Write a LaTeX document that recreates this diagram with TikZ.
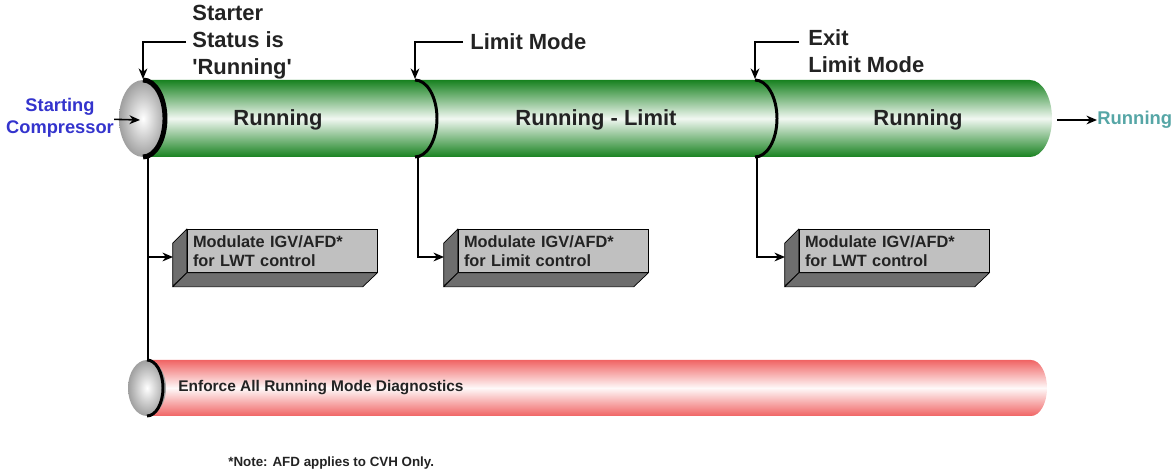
\documentclass[tikz,border=0pt]{standalone}
\usepackage{fontspec}
\setmainfont{Liberation Sans}
\usetikzlibrary{arrows.meta,positioning,calc}
\definecolor{TubeGreen}{RGB}{24,130,32}
\definecolor{TubeRed}{RGB}{240,100,100}
\definecolor{LabelBlue}{RGB}{52,52,205}
\definecolor{LabelTeal}{RGB}{86,166,166}
\definecolor{BoxFront}{RGB}{192,192,192}
\definecolor{BoxSide}{RGB}{110,110,110}
\definecolor{TextDark}{RGB}{35,35,35}

\begin{document}
\begin{tikzpicture}[x=0.02cm, y=0.02cm,
    toplab/.style={align=left, inner sep=0pt, text=TextDark,
                   font=\fontsize{12.5}{15.4}\selectfont\bfseries},
    tubelab/.style={inner sep=0pt, text=TextDark,
                    font=\fontsize{12.5}{15}\selectfont\bfseries},
    modbox/.style={rectangle, draw=black, fill=BoxFront, minimum width=3.8cm,
                   minimum height=0.86cm, text width=3.56cm, inner xsep=0.12cm,
                   align=left, text=TextDark, font=\fontsize{9.3}{11}\selectfont\bfseries},
    boxside/.style={draw=black, fill=BoxSide},
    divider/.style={line width=1.7pt, black},
    arr/.style={-{Stealth[length=6pt, width=5pt]}, line width=0.9pt, black},
    line/.style={line width=0.9pt, black}
  ]
    \useasboundingbox (0,0) rectangle (1173,-475);

    % green tube
    \shade[top color=TubeGreen, bottom color=TubeGreen, middle color=TubeGreen!6]
      (143,-80) -- (1030,-80) arc[start angle=90, end angle=-90, x radius=22, y radius=38.5]
      -- (143,-157) -- cycle;
    \shade[inner color=white, outer color=gray!75] (143,-118.5) ellipse[x radius=24, y radius=38.5];
    \draw[line width=2.8pt] (143,-80) arc[start angle=90, end angle=-90, x radius=22, y radius=38.5];
    \draw[divider] (415,-80) arc[start angle=90, end angle=-90, x radius=22, y radius=38.5];
    \draw[divider] (755,-80) arc[start angle=90, end angle=-90, x radius=22, y radius=38.5];

    % red tube
    \shade[top color=TubeRed, bottom color=TubeRed, middle color=TubeRed!4]
      (147,-360) -- (1031,-360) arc[start angle=90, end angle=-90, x radius=16, y radius=28]
      -- (147,-416) -- cycle;
    \shade[inner color=white, outer color=gray!75] (147,-388) ellipse[x radius=19, y radius=28];
    \draw[line width=1.7pt] (147,-360) arc[start angle=90, end angle=-90, x radius=16, y radius=28];

    \node[tubelab] (run1) at (278,-120) {Running};
    \node[tubelab] (runlim) at (596,-120) {Running - Limit};
    \node[tubelab] (run2) at (918,-120) {Running};
    \node[inner sep=0pt, anchor=west, text=TextDark, font=\fontsize{8.8}{10}\selectfont\bfseries]
      (diag) at (178,-388) {Enforce All Running Mode Diagnostics};

    \node[align=center, inner sep=0pt, text=LabelBlue, font=\fontsize{10.4}{12.3}\selectfont\bfseries]
      (start) at (60,-118) {Starting\\Compressor};
    \node[inner sep=0pt, anchor=west, text=LabelTeal, font=\fontsize{10.5}{12}\selectfont\bfseries]
      (runout) at (1097,-120) {Running};
    \coordinate (capin) at (140,-120);
    \coordinate (tubeout) at (1057,-120);

    \node[toplab, anchor=west] (lab1) at (192,-42) {Starter\\Status is\\\textquotesingle Running\textquotesingle};
    \node[toplab, anchor=west] (lab2) at (470,-42) {Limit Mode};
    \node[toplab, anchor=north west] (lab3) at (808,-29) {Exit\\Limit Mode};

    \coordinate (k1) at (186,-42);
    \coordinate (k2) at (463,-42);
    \coordinate (k3) at (799,-42);
    \coordinate (e1) at (143,-79);
    \coordinate (e2) at (415,-79);
    \coordinate (e3) at (755,-79);

    \node[modbox] (m1) at (282,-251) {Modulate IGV/AFD*\\for LWT control};
    \node[modbox] (m2) at (553,-251) {Modulate IGV/AFD*\\for Limit control};
    \node[modbox] (m3) at (894,-251) {Modulate IGV/AFD*\\for LWT control};
    \foreach \b in {m1,m2,m3}{
      \filldraw[boxside] (\b.north west) -- ++(-14,-14) -- ++(0,-43) -- (\b.south west) -- cycle;
      \filldraw[boxside] (\b.south west) -- ++(-14,-14) -- ++(190,0) -- (\b.south east) -- cycle;
    }
    \coordinate (m1in) at (173,-257);
    \coordinate (m2in) at (444,-257);
    \coordinate (m3in) at (785,-257);

    \coordinate (t1) at (148,-158);
    \coordinate (t2) at (418,-157);
    \coordinate (t3) at (757,-157);
    \coordinate (rtop) at (148,-360);

    \node[inner sep=0pt, anchor=west, text=TextDark, font=\fontsize{7.6}{9}\selectfont\bfseries]
      (note) at (228,-463) {*Note: AFD applies to CVH Only.};

    \draw[arr] (start) -- (capin);
    \draw[arr] (tubeout) -- (runout);
    \draw[arr] (k1) -| (e1);
    \draw[arr] (k2) -| (e2);
    \draw[arr] (k3) -| (e3);
    \draw[arr] (t1) |- (m1in);
    \draw[arr] (t2) |- (m2in);
    \draw[arr] (t3) |- (m3in);
    \draw[line] (t1) -- (rtop);
  \end{tikzpicture}
\end{document}
